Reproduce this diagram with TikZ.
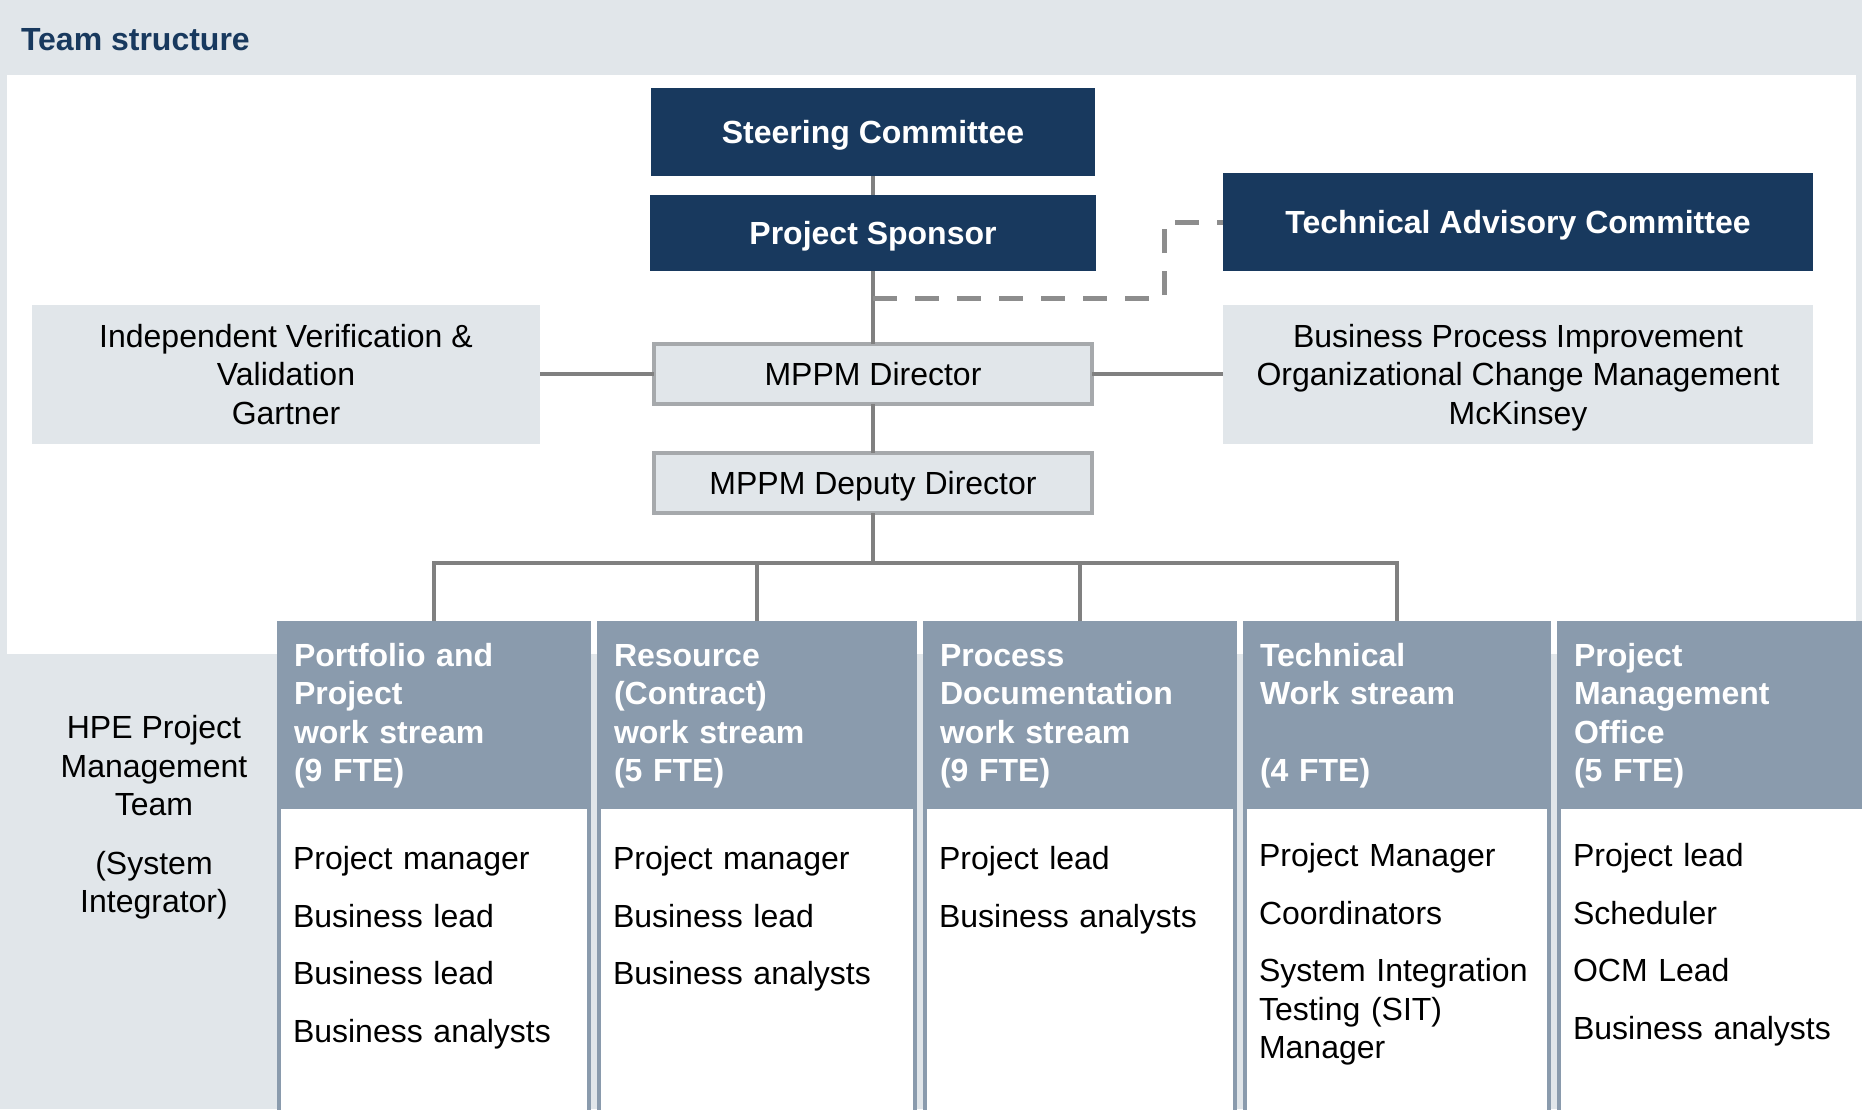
\documentclass[tikz,border=0pt]{standalone}
\usepackage{fontspec}
\setmainfont{Liberation Sans}
\usepackage{xcolor}
\usepackage{tikz}
\usetikzlibrary{positioning}

\definecolor{navy}{RGB}{24,57,94}
\definecolor{panelgrey}{RGB}{225,230,234}
\definecolor{slate}{RGB}{138,155,173}
\definecolor{linegrey}{RGB}{128,128,128}
\definecolor{rimgrey}{RGB}{166,169,172}

\newcommand{\bigfont}{\fontsize{32}{38.5}\selectfont}

\begin{document}
\begin{tikzpicture}[x=1pt, y=-1pt,
    every node/.style={font=\bigfont, inner sep=0pt, outer sep=0pt},
    navybox/.style={rectangle, fill=navy, text=white, font=\bigfont\bfseries, text height=23pt, text depth=0pt},
    greybox/.style={rectangle, fill=panelgrey, align=center, text depth=0pt},
    rolebox/.style={rectangle, fill=panelgrey, draw=rimgrey, line width=4pt, text height=23pt, text depth=0pt},
    wshead/.style={rectangle, anchor=north west, fill=slate, text=white, font=\bigfont\bfseries, align=left, inner xsep=17pt, minimum height=186pt},
    wsbody/.style={rectangle, anchor=north, fill=white, draw=slate, line width=4pt, minimum height=330pt},
    wslist/.style={anchor=north west, align=left, text width=282pt},
    link/.style={draw=linegrey, line width=3.5pt},
    dashlink/.style={draw=linegrey!90, line width=5pt, dash pattern=on 24pt off 18pt}]
    \useasboundingbox (0,0) rectangle (1862,1109);
    \clip (0,0) rectangle (1862,1109);

    % Panel
    \fill[panelgrey] (0,0) rectangle (1862,1109);
    \fill[white] (7,75) rectangle (1856,654);
    \node[anchor=base west, text=navy, font=\bigfont\bfseries] (title) at (21,50) {Team structure};

    % Governance chain
    \node[navybox, minimum width=444pt, minimum height=88pt] (steering) at (873,132) {Steering Committee};
    \node[navybox, minimum width=446pt, minimum height=76pt, node distance=101pt, below of=steering] (sponsor) {Project Sponsor};
    \node[rolebox, minimum width=438pt, minimum height=60pt, node distance=141pt, below of=sponsor] (director) {MPPM Director};
    \node[rolebox, minimum width=438pt, minimum height=60pt, node distance=109pt, below of=director] (deputy) {MPPM Deputy Director};

    % Advisors
    \node[navybox, minimum width=590pt, minimum height=98pt] (tac) at (1518,222) {Technical Advisory Committee};
    \node[greybox, minimum width=590pt, minimum height=139pt] (bpi) at (1518,374) {Business Process Improvement\\Organizational Change Management\\McKinsey};
    \node[greybox, minimum width=508pt, minimum height=139pt] (ivv) at (286,374) {Independent Verification \&\\Validation\\Gartner};

    \draw[link] (steering) -- (sponsor);
    \draw[link] (sponsor) -- (director);
    \draw[link] (director) -- (deputy);
    \draw[link] (ivv) -- (director);
    \draw[link] (director) -- (bpi);
    \coordinate (tap) at ([yshift=-27pt]sponsor.south);
    \draw[dashlink] (tap) -| ([xshift=-59pt]tac.west) -- (tac.west);

    % System integrator side
    \node[anchor=north, align=center] (hpe) at (154,712) {\strut HPE Project\\Management\\Team\\[20pt](System\\Integrator)};

    % Work streams
    \node[wshead, text width=280pt] (ws1) at (277,621) {\strut Portfolio and\\Project\\work stream\\(9 FTE)};
    \node[wshead, text width=286pt] (ws2) at (597,621) {\strut Resource\\(Contract)\\work stream\\(5 FTE)};
    \node[wshead, text width=280pt] (ws3) at (923,621) {\strut Process\\Documentation\\work stream\\(9 FTE)};
    \node[wshead, text width=274pt] (ws4) at (1243,621) {\strut Technical\\Work stream\\[38.5pt](4 FTE)};
    \node[wshead, text width=280pt] (ws5) at (1557,621) {\strut Project\\Management\\Office\\(5 FTE)};

    \node[wsbody, minimum width=310pt] (body1) at (ws1.south) {};
    \node[wsbody, minimum width=316pt] (body2) at (ws2.south) {};
    \node[wsbody, minimum width=310pt] (body3) at (ws3.south) {};
    \node[wsbody, minimum width=304pt] (body4) at (ws4.south) {};
    \node[wsbody, minimum width=310pt] (body5) at (ws5.south) {};

    \node[wslist] (list1) at ([xshift=14pt, yshift=-36pt]body1.north west) {\strut Project manager\\[19pt]Business lead\\[19pt]Business lead\\[19pt]Business analysts};
    \node[wslist] (list2) at ([xshift=14pt, yshift=-36pt]body2.north west) {\strut Project manager\\[19pt]Business lead\\[19pt]Business analysts};
    \node[wslist] (list3) at ([xshift=14pt, yshift=-36pt]body3.north west) {\strut Project lead\\[19pt]Business analysts};
    \node[wslist] (list4) at ([xshift=14pt, yshift=-33pt]body4.north west) {\strut Project Manager\\[19pt]Coordinators\\[19pt]System Integration\\Testing (SIT)\\Manager};
    \node[wslist] (list5) at ([xshift=14pt, yshift=-33pt]body5.north west) {\strut Project lead\\[19pt]Scheduler\\[19pt]OCM Lead\\[19pt]Business analysts};

    % Reporting lines to the work streams
    \coordinate (bus) at (873,563);
    \draw[link] (deputy) -- (bus);
    \draw[link] (ws1.north) |- (bus) -| (ws4.north);
    \draw[link] (ws2.north) -- (ws2.north |- bus);
    \draw[link] (ws3.north) -- (ws3.north |- bus);
\end{tikzpicture}
\end{document}
